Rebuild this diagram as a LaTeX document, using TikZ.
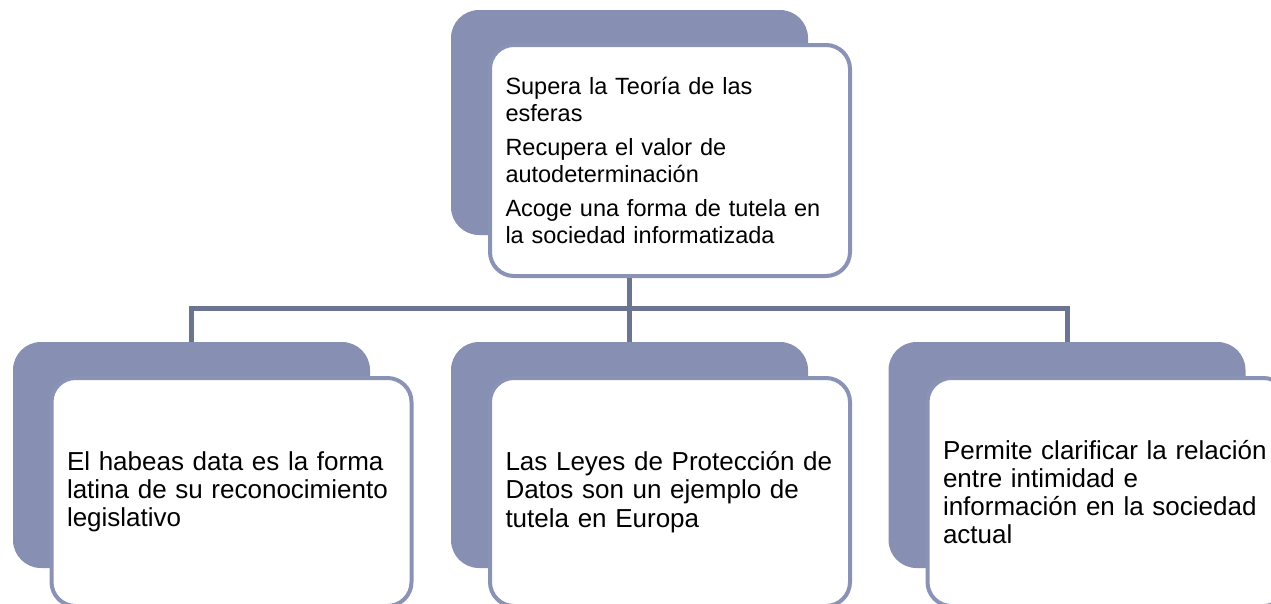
\documentclass[tikz,border=0pt]{standalone}
\usepackage{fontspec}
\setmainfont{Liberation Sans}
\definecolor{backfill}{HTML}{8790B2}
\definecolor{frontline}{HTML}{8A93B5}
\definecolor{connline}{HTML}{6B7493}
\tikzset{
  backbox/.style={fill=backfill, draw=none, rounded corners=28pt, minimum width=357pt, inner sep=0pt},
  frontbox/.style={fill=white, draw=frontline, line width=4pt, rounded corners=24pt,
     text width=329pt, inner xsep=15.5pt, inner ysep=0pt, align=left},
  topfont/.style={font=\fontsize{23.5}{27}\selectfont},
  lowfont/.style={font=\fontsize{26}{28.2}\selectfont},
  conn/.style={draw=connline, line width=5pt},
}
\begin{document}
\begin{tikzpicture}[x=1pt,y=-1pt]
\useasboundingbox (0,0) rectangle (1271,603);
\clip (0,0) rectangle (1271,603);
% back boxes
\node[backbox, minimum height=225pt] (backT) at (629.5,122.5) {};
\node[backbox, minimum height=226pt] (backL) at (191.5,455) {};
\node[backbox, minimum height=226pt] (backM) at (629.5,455) {};
\node[backbox, minimum height=226pt] (backR) at (1067,455) {};
% connectors
\coordinate (bus) at (629.5,308);
\draw[conn] (629.5,276) -- (bus);
\draw[conn] (bus) -| (backL.north);
\draw[conn] (bus) -- (backM.north);
\draw[conn] (bus) -| (backR.north);
% front boxes
\node[frontbox, topfont, minimum height=231pt] (topF) at (670,160.5)
  {Supera la Teoría de las\\esferas\\[7pt]Recupera el valor de\\autodeterminación\\[7pt]Acoge una forma de tutela en\\la sociedad informatizada};
\node[frontbox, lowfont, minimum height=228pt] (leftF) at (231.5,492)
  {El habeas data es la forma\\latina de su reconocimiento\\legislativo};
\node[frontbox, lowfont, minimum height=228pt] (midF) at (670,492)
  {Las Leyes de Protección de\\Datos son un ejemplo de\\tutela en Europa};
\node[frontbox, lowfont, minimum height=228pt] (rightF) at (1107.5,492)
  {Permite clarificar la relación\\entre intimidad e\\información en la sociedad\\actual};
\end{tikzpicture}
\end{document}
